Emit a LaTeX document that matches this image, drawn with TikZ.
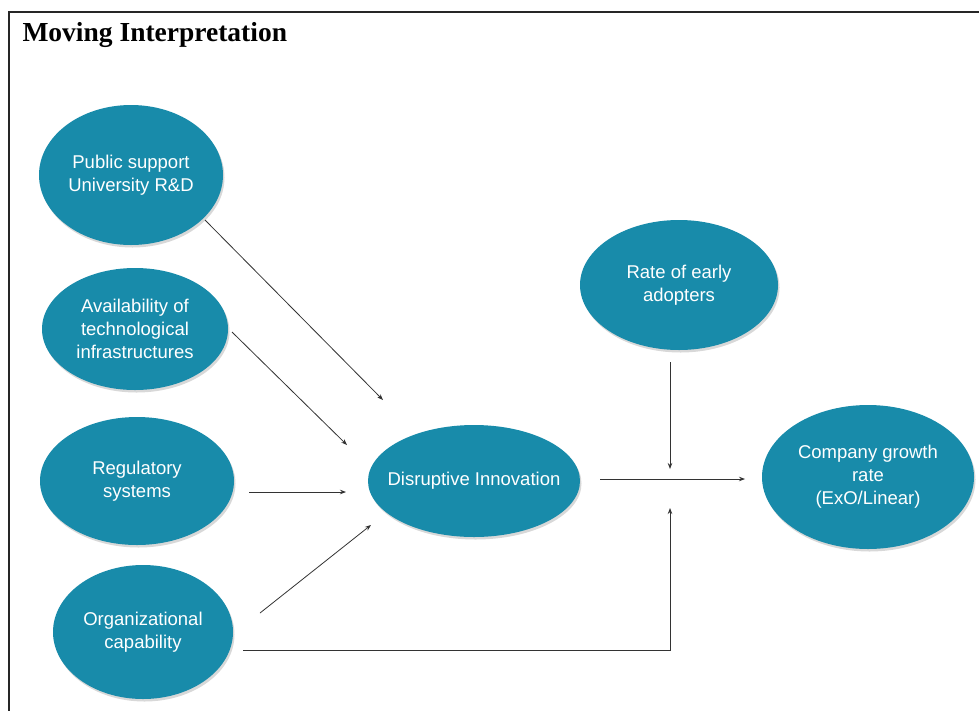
\documentclass[tikz,border=0pt]{standalone}
\usepackage{fontspec}
\setmainfont{Liberation Sans}
\newfontfamily\titlefont{Liberation Serif}
\usetikzlibrary{shapes.geometric,arrows.meta,shadows}
\definecolor{teal1}{RGB}{24,139,170}
\begin{document}
\begin{tikzpicture}[x=1pt,y=-1pt,
  oval/.style={ellipse,fill=teal1,text=white,inner sep=0pt,align=center,
    font=\fontsize{18.5}{23}\selectfont,
    drop shadow={shadow xshift=1.5pt,shadow yshift=-2.5pt,opacity=0.25,fill=black!60}},
  conn/.style={draw=black!80,line width=0.8pt,-{Stealth[length=6pt,width=4.5pt]}}]
\useasboundingbox (0,0) rectangle (979,710);
\fill[white] (0,0) rectangle (979,710);
\draw[line width=2pt,black!85] (9,712) -- (9,12) -- (981,12);
\node[anchor=base west,font=\titlefont\bfseries\fontsize{27.5}{31}\selectfont] (title) at (19,41) {Moving Interpretation};

\node[oval,minimum width=184pt,minimum height=140pt] (pub) at (131,175) {Public support\\University R\&D};
\node[oval,minimum width=186pt,minimum height=122pt] (avail) at (135,329) {Availability of\\technological\\infrastructures};
\node[oval,minimum width=194pt,minimum height=128pt] (reg) at (137,481) {Regulatory\\systems};
\node[oval,minimum width=180pt,minimum height=134pt] (org) at (143,632) {Organizational\\capability};
\node[oval,minimum width=212pt,minimum height=112pt] (dis) at (474,481) {\makebox[100pt]{Disruptive Innovation}};
\node[oval,minimum width=198pt,minimum height=130pt] (early) at (679,285) {Rate of early\\adopters};
\node[oval,minimum width=212pt,minimum height=144pt] (comp) at (868,477) {Company growth\\rate\\(ExO/Linear)};

\coordinate (a1s) at (205,220); \coordinate (a1e) at (383,400);
\coordinate (a2s) at (232,332); \coordinate (a2e) at (347,445);
\coordinate (a3s) at (249,492); \coordinate (a3e) at (346,492);
\coordinate (a4s) at (260,613); \coordinate (a4e) at (371,525);
\coordinate (a5s) at (600,479); \coordinate (a5e) at (745,479);
\coordinate (a6s) at (670,362); \coordinate (a6e) at (670,469);
\coordinate (a7s) at (243,650); \coordinate (a7c) at (670,650); \coordinate (a7e) at (670,508);

\draw[conn] (a1s) -- (a1e);
\draw[conn] (a2s) -- (a2e);
\draw[conn] (a3s) -- (a3e);
\draw[conn] (a4s) -- (a4e);
\draw[conn] (a5s) -- (a5e);
\draw[conn] (a6s) -- (a6e);
\draw[conn] (a7s) -- (a7c) -- (a7e);
\end{tikzpicture}
\end{document}
